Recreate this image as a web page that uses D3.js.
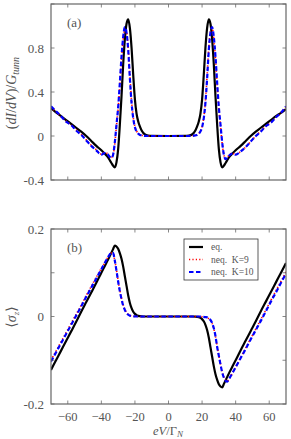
<!DOCTYPE html>
<html>
<head>
<meta charset="utf-8">
<script src="https://cdn.jsdelivr.net/npm/d3@7/dist/d3.min.js"></script>
<style>
  body { margin: 0; background: #fff; }
</style>
</head>
<body>
<div id="chart"></div>
<script>
// bias voltage eV/Gamma_N
var volts = [-70,-67,-64,-61,-58,-55,-52,-49,-46,-43,-40,-38,-36,-35,-34,-33,-32,-31,-30,-29,-28,-27,-26,-25,-24,-23,-22,-21,-20,-19,-18,-17,-16,-14,-12,-10,0,
             10,12,14,16,17,18,19,20,21,22,23,24,25,26,27,28,29,30,31,32,33,34,35,36,38,40,43,46,49,52,55,58,61,64,67,70];

// panel (a): (dI/dV)/G_tunn
var dIdV_eq   = [0.255,0.215,0.18,0.145,0.11,0.075,0.04,0.0,-0.045,-0.09,-0.13,-0.16,-0.195,-0.22,-0.245,-0.27,-0.285,-0.24,-0.12,0.1,0.36,0.65,0.88,1.02,1.06,0.98,0.8,0.55,0.33,0.2,0.13,0.085,0.05,0.014,0.004,0.001,0,
                 0.001,0.004,0.014,0.05,0.085,0.13,0.2,0.33,0.55,0.8,0.98,1.06,1.02,0.88,0.65,0.36,0.1,-0.12,-0.24,-0.285,-0.27,-0.245,-0.22,-0.195,-0.16,-0.13,-0.09,-0.045,0.0,0.04,0.075,0.11,0.145,0.18,0.21,0.245];
var dIdV_k9   = [0.265,0.22,0.175,0.135,0.1,0.055,0.015,-0.035,-0.085,-0.125,-0.165,-0.15,-0.165,-0.185,-0.195,-0.17,-0.07,0.09,0.25,0.46,0.7,0.88,0.98,0.95,0.8,0.55,0.32,0.17,0.085,0.045,0.022,0.012,0.007,0.002,0,0,0,
                 0,0,0.002,0.007,0.012,0.022,0.045,0.085,0.17,0.32,0.55,0.8,0.95,0.98,0.88,0.7,0.46,0.25,0.09,-0.07,-0.17,-0.205,-0.195,-0.175,-0.155,-0.17,-0.14,-0.1,-0.05,0.0,0.045,0.09,0.125,0.17,0.21,0.265];
var dIdV_k10  = [0.27,0.225,0.18,0.13,0.1,0.05,0.01,-0.04,-0.09,-0.13,-0.17,-0.155,-0.17,-0.19,-0.2,-0.17,-0.06,0.1,0.26,0.48,0.72,0.9,0.99,0.94,0.78,0.52,0.3,0.16,0.08,0.04,0.02,0.01,0.006,0.001,0,0,0,
                 0,0,0.001,0.006,0.01,0.02,0.04,0.08,0.16,0.3,0.52,0.78,0.94,0.99,0.9,0.72,0.48,0.26,0.1,-0.06,-0.17,-0.21,-0.2,-0.18,-0.16,-0.17,-0.14,-0.1,-0.05,0.0,0.04,0.09,0.12,0.17,0.21,0.27];

// panel (b): <sigma_z>
var sz_eq  = [-0.122,-0.1,-0.078,-0.056,-0.034,-0.012,0.011,0.033,0.055,0.077,0.1,0.115,0.13,0.138,0.146,0.154,0.162,0.16,0.155,0.145,0.132,0.114,0.092,0.07,0.048,0.031,0.019,0.011,0.006,0.003,0.0015,0.0008,0.0004,0,0,0,0,
              0,0,0,-0.0004,-0.0008,-0.0015,-0.003,-0.006,-0.011,-0.019,-0.031,-0.048,-0.07,-0.092,-0.114,-0.132,-0.145,-0.155,-0.16,-0.162,-0.154,-0.146,-0.138,-0.13,-0.115,-0.1,-0.077,-0.055,-0.033,-0.011,0.012,0.034,0.056,0.078,0.1,0.122];
var sz_k9  = [-0.1,-0.079,-0.058,-0.037,-0.016,0.005,0.026,0.048,0.069,0.09,0.11,0.123,0.136,0.141,0.145,0.144,0.128,0.106,0.082,0.06,0.042,0.027,0.016,0.009,0.005,0.0025,0.0012,0.0006,0.0003,0,0,0,0,0,0,0,0,
              0,0,0,0,0,0,0,-0.0005,-0.001,-0.0015,-0.0025,-0.005,-0.009,-0.016,-0.028,-0.046,-0.068,-0.089,-0.109,-0.127,-0.139,-0.146,-0.148,-0.143,-0.13,-0.115,-0.094,-0.072,-0.05,-0.029,-0.007,0.015,0.037,0.059,0.08,0.102];
var sz_k10 = [-0.103,-0.082,-0.061,-0.04,-0.019,0.002,0.023,0.045,0.066,0.087,0.108,0.122,0.136,0.142,0.146,0.145,0.128,0.105,0.08,0.058,0.04,0.025,0.015,0.008,0.004,0.002,0.001,0.0005,0.0002,0,0,0,0,0,0,0,0,
              0,0,0,0,0,0,0,-0.0005,-0.001,-0.0015,-0.002,-0.004,-0.008,-0.015,-0.027,-0.045,-0.07,-0.09,-0.11,-0.128,-0.14,-0.147,-0.149,-0.143,-0.13,-0.116,-0.095,-0.074,-0.052,-0.031,-0.01,0.012,0.034,0.055,0.077,0.098];

var xTicks = [-60,-40,-20,0,20,40,60];
var yTicksA = [-0.4,0,0.4,0.8,1.2];
var yLabelsA = [-0.4,0,0.4,0.8];
var yTicksB = [-0.2,-0.1,0,0.1,0.2];
var yLabelsB = [-0.2,0,0.2];
var legendNames = ["eq.", "neq.  K=9", "neq.  K=10"];

var styles = [
  { color: "#000", width: 2.2, dash: null },
  { color: "#ff0000", width: 1.6, dash: "1.2,2.2" },
  { color: "#0000ff", width: 2.2, dash: "4.5,2.5" }
];

var W = 291, H = 439;
var svg = d3.select("#chart").append("svg")
  .attr("width", W).attr("height", H)
  .attr("font-family", "'Liberation Serif', 'DejaVu Serif', serif")
  .attr("fill", "#555");

var x = d3.scaleLinear().domain([-70, 70]).range([51, 286]);

function panel(top, bottom, yDomain, yTicks, yLabels, series, tag, showXLabels) {
  var y = d3.scaleLinear().domain(yDomain).range([bottom, top]);
  var g = svg.append("g");

  var clipId = "clip" + tag.replace(/[()]/g, "");
  svg.append("clipPath").attr("id", clipId).append("rect")
    .attr("x", x.range()[0]).attr("y", top)
    .attr("width", x.range()[1] - x.range()[0]).attr("height", bottom - top);

  var line = d3.line()
    .x(function(d) { return x(d[0]); })
    .y(function(d) { return y(d[1]); })
    .curve(d3.curveMonotoneX);

  [0, 1, 2].forEach(function(i) {
    var pts = volts.map(function(v, j) { return [v, series[i][j]]; });
    g.append("path")
      .attr("clip-path", "url(#" + clipId + ")")
      .attr("d", line(pts))
      .attr("fill", "none")
      .attr("stroke", styles[i].color)
      .attr("stroke-width", styles[i].width)
      .attr("stroke-dasharray", styles[i].dash);
  });

  // ticks inside on all sides
  var tk = 3.5;
  xTicks.forEach(function(t) {
    g.append("line").attr("x1", x(t)).attr("x2", x(t)).attr("y1", bottom).attr("y2", bottom - tk)
      .attr("stroke", "#555").attr("stroke-width", 0.7);
    g.append("line").attr("x1", x(t)).attr("x2", x(t)).attr("y1", top).attr("y2", top + tk)
      .attr("stroke", "#555").attr("stroke-width", 0.7);
  });
  yTicks.forEach(function(t) {
    g.append("line").attr("x1", x.range()[0]).attr("x2", x.range()[0] + tk).attr("y1", y(t)).attr("y2", y(t))
      .attr("stroke", "#555").attr("stroke-width", 0.7);
    g.append("line").attr("x1", x.range()[1]).attr("x2", x.range()[1] - tk).attr("y1", y(t)).attr("y2", y(t))
      .attr("stroke", "#555").attr("stroke-width", 0.7);
  });

  g.append("rect")
    .attr("x", x.range()[0]).attr("y", top)
    .attr("width", x.range()[1] - x.range()[0]).attr("height", bottom - top)
    .attr("fill", "none").attr("stroke", "#666").attr("stroke-width", 1.2);

  g.selectAll(".ylab").data(yLabels).enter().append("text")
    .attr("x", 44).attr("y", function(d) { return y(d) + 4.5; })
    .attr("text-anchor", "end").attr("font-size", 13)
    .text(function(d) { return String(d); });

  if (showXLabels) {
    g.selectAll(".xlab").data(xTicks).enter().append("text")
      .attr("x", function(d) { return x(d); }).attr("y", bottom + 16.5)
      .attr("text-anchor", "middle").attr("font-size", 12.5)
      .text(function(d) { return d < 0 ? "\u2212" + Math.abs(d) : d; });
  }

  g.append("text").attr("x", 67).attr("y", top + 23).attr("font-size", 13).text(tag);
  return y;
}

panel(4, 180, [-0.4, 1.2], yTicksA, yLabelsA, [dIdV_eq, dIdV_k9, dIdV_k10], "(a)", false);
panel(229, 404, [-0.2, 0.2], yTicksB, yLabelsB, [sz_eq, sz_k9, sz_k10], "(b)", true);

// axis titles
var ta = svg.append("text")
  .attr("transform", "translate(16,93) rotate(-90)")
  .attr("text-anchor", "middle").attr("font-size", 14);
ta.append("tspan").text("(");
ta.append("tspan").attr("font-style", "italic").text("dI");
ta.append("tspan").text("/");
ta.append("tspan").attr("font-style", "italic").text("dV");
ta.append("tspan").text(")/");
ta.append("tspan").attr("font-style", "italic").text("G");
ta.append("tspan").attr("font-style", "italic").attr("font-size", 10).attr("dy", 3).text("tunn");

var tb = svg.append("text")
  .attr("transform", "translate(16,317) rotate(-90)")
  .attr("text-anchor", "middle").attr("font-size", 14);
tb.append("tspan").text("\u27E8");
tb.append("tspan").attr("font-style", "italic").text("\u03C3");
tb.append("tspan").attr("font-style", "italic").attr("font-size", 9).attr("dy", 3).text("z");
tb.append("tspan").attr("dy", -3).text("\u27E9");

var tx = svg.append("text")
  .attr("x", 168).attr("y", 434.5)
  .attr("text-anchor", "middle").attr("font-size", 12.5);
tx.append("tspan").attr("font-style", "italic").text("eV");
tx.append("tspan").text("/\u0393");
tx.append("tspan").attr("font-style", "italic").attr("font-size", 9).attr("dy", 2.5).text("N");

// legend
var lg = svg.append("g").attr("transform", "translate(184,239)");
lg.append("rect").attr("width", 74).attr("height", 41)
  .attr("fill", "#fff").attr("stroke", "#333").attr("stroke-width", 0.8);
legendNames.forEach(function(name, i) {
  var yy = 8 + i * 12.5;
  lg.append("line").attr("x1", 5).attr("x2", 19).attr("y1", yy).attr("y2", yy)
    .attr("stroke", styles[i].color).attr("stroke-width", styles[i].width)
    .attr("stroke-dasharray", styles[i].dash);
  lg.append("text").attr("x", 27).attr("y", yy + 3).attr("font-size", 9.5)
    .attr("xml:space", "preserve").text(name);
});
</script>
</body>
</html>
